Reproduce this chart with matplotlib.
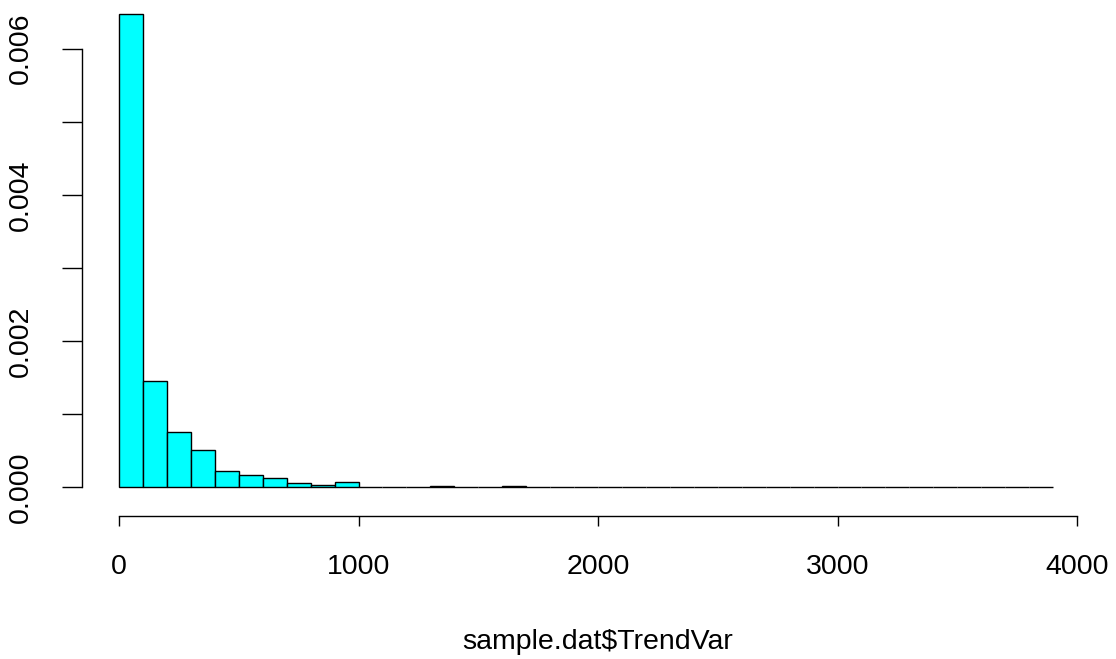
import matplotlib
matplotlib.use("Agg")
import matplotlib.pyplot as plt
import numpy as np

# Histogram of sample.dat$TrendVar (density scale), bin width 100
bin_edges = list(range(0, 4000, 100))  # edges 0..3900 -> 39 bins
densities = [
    0.006471, 0.001458, 0.000761, 0.000510, 0.000223, 0.000172, 0.000131,
    0.000055, 0.000027, 0.000072,
    0.000008, 0.000008, 0.000008, 0.000020, 0.000010, 0.0, 0.000020,
    0.0, 0.0, 0.000008, 0.000008,
    0.0, 0.0, 0.0, 0.0, 0.0, 0.0, 0.0, 0.0, 0.000010,
    0.0, 0.0, 0.0, 0.0, 0.0, 0.0, 0.0, 0.0, 0.000010,
]
x_ticks = [0, 1000, 2000, 3000, 4000]
x_labels = ["0", "1000", "2000", "3000", "4000"]
y_ticks = [0.000, 0.001, 0.002, 0.003, 0.004, 0.005, 0.006]
y_labels = ["0.000", "", "0.002", "", "0.004", "", "0.006"]
x_title = "sample.dat$TrendVar"

plt.rcParams['font.family'] = ['Liberation Sans', 'DejaVu Sans']

W, H = 1116, 659
fig = plt.figure(figsize=(W / 100, H / 100), dpi=100)
left_px, right_px = 81.7, 1090.4
bottom_px, top_px = 516.0, 0.0
ax = fig.add_axes([left_px / W, (H - bottom_px) / H,
                   (right_px - left_px) / W, (bottom_px - top_px) / H])

edges = np.array(bin_edges, dtype=float)
ax.bar(edges[:-1], densities, width=np.diff(edges), align='edge',
       color='#00FFFF', edgecolor='black', linewidth=1.0)

ax.set_xlim(-156, 4056)
ax.set_ylim(-0.000393, 0.006666)

for s in ['top', 'right']:
    ax.spines[s].set_visible(False)
ax.spines['left'].set_bounds(0, 0.006)
ax.spines['bottom'].set_bounds(0, 4000)
ax.spines['left'].set_linewidth(1.0)
ax.spines['bottom'].set_linewidth(1.0)

ax.set_xticks(x_ticks)
ax.set_xticklabels(x_labels, fontsize=20.5)
ax.set_yticks(y_ticks)
ax.set_yticklabels(y_labels, fontsize=20.5, rotation=90, va='center')
ax.tick_params(axis='x', length=7.2, width=1.0, pad=20, direction='out')
ax.tick_params(axis='y', length=14.4, width=1.0, pad=20, direction='out')

fig.text(598 / W, 1 - 642 / H, x_title, fontsize=20.5, ha='center', va='center')

fig.savefig("out.png", dpi=100)
